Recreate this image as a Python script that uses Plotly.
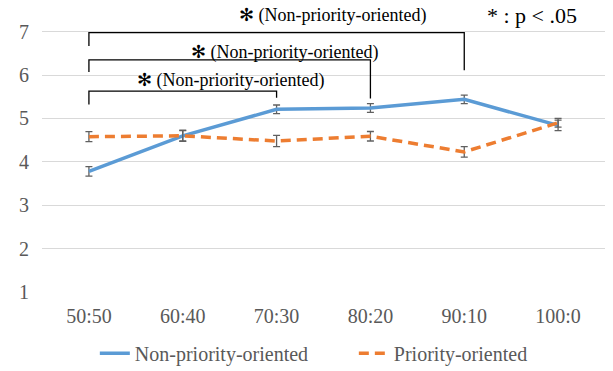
import plotly.graph_objects as go

categories = ["50:50", "60:40", "70:30", "80:20", "90:10", "100:0"]
non_priority = [3.78, 4.60, 5.21, 5.24, 5.44, 4.84]
non_priority_err = [0.11, 0.13, 0.10, 0.10, 0.10, 0.12]
priority = [4.58, 4.60, 4.48, 4.59, 4.23, 4.90]
priority_err = [0.115, 0.12, 0.13, 0.11, 0.12, 0.10]
y_ticks = [1, 2, 3, 4, 5, 6, 7]

# significance brackets: (from category, to category, left leg end, top, right leg end)
brackets = [
    ("50:50", "70:30", 5.32, 5.63, 5.48),
    ("50:50", "80:20", 6.07, 6.35, 5.46),
    ("50:50", "90:10", 6.67, 6.98, 6.11),
]
bracket_labels = ["✻ (Non-priority-oriented)"] * 3
bracket_label_pos = [(1.51, 5.88), (2.08, 6.53), (2.60, 7.38)]
sig_note = "* : p < .05"
sig_note_pos = (4.72, 7.38)

FONT = "'Liberation Serif', 'Times New Roman', 'DejaVu Serif', serif"
GREY = "#595959"

fig = go.Figure()

fig.add_trace(go.Scatter(
    x=categories, y=non_priority, mode="lines", name="Non-priority-oriented",
    line=dict(color="#5B9BD5", width=3.5),
    error_y=dict(type="data", array=non_priority_err, visible=True,
                 color="#606060", thickness=1.3, width=3.5),
))
fig.add_trace(go.Scatter(
    x=categories, y=priority, mode="lines", name="Priority-oriented",
    line=dict(color="#ED7D31", width=3.5, dash="10px,6px"),
    error_y=dict(type="data", array=priority_err, visible=True,
                 color="#606060", thickness=1.3, width=3.5),
))

for (a, b, ya, top, yb) in brackets:
    fig.add_trace(go.Scatter(
        x=[a, a, b, b], y=[ya, top, top, yb], mode="lines",
        line=dict(color="#000000", width=1.3), showlegend=False, hoverinfo="skip",
    ))

for txt, (x, y) in zip(bracket_labels, bracket_label_pos):
    fig.add_annotation(x=x, y=y, xref="x", yref="y", text=txt, showarrow=False,
                       font=dict(family=FONT, size=18, color="#000000"))

fig.add_annotation(x=sig_note_pos[0], y=sig_note_pos[1], xref="x", yref="y",
                   text=sig_note, showarrow=False,
                   font=dict(family=FONT, size=22, color="#000000"))

fig.update_layout(
    width=613, height=371,
    margin=dict(l=42, r=8, t=10, b=79, autoexpand=False),
    paper_bgcolor="white", plot_bgcolor="white",
    font=dict(family=FONT, size=20, color=GREY),
    showlegend=True,
    legend=dict(orientation="h", xref="container", x=0.1547, xanchor="left",
                yref="container", y=0.048, yanchor="middle",
                font=dict(family=FONT, size=20, color=GREY),
                entrywidth=214, entrywidthmode="pixels", tracegroupgap=0),
)
fig.update_xaxes(type="category", range=[-0.5, 5.5], showgrid=False,
                 showline=False, ticks="", tickfont=dict(family=FONT, size=20, color=GREY),
                 ticklabelstandoff=10, automargin=False)
fig.update_yaxes(range=[1, 7.5], tickvals=y_ticks, showgrid=True,
                 gridcolor="#D9D9D9", gridwidth=1, zeroline=False, showline=False,
                 tickfont=dict(family=FONT, size=20, color=GREY), ticklabelstandoff=12,
                 automargin=False)

fig.write_html("out.html", config={"displayModeBar": False},
               post_script="document.body.style.margin='0';")
